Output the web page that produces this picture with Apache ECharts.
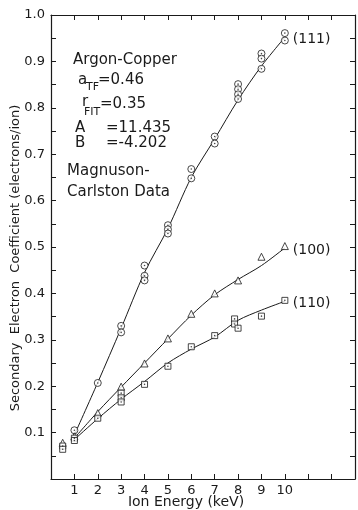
<!DOCTYPE html>
<html>
<head>
<meta charset="utf-8">
<script src="https://cdn.jsdelivr.net/npm/echarts@6/dist/echarts.min.js"></script>
<style>
  html, body { margin: 0; padding: 0; background: #fff; }
  #chart { width: 358px; height: 510px; }
</style>
</head>
<body>
<div id="chart"></div>
<script>
// x positions of the fitted curves (keV)
const fitEnergy = [1, 2, 3, 4, 5, 6, 7, 8, 9, 10];
// fitted curves
const fit111 = [0.095, 0.208, 0.325, 0.445, 0.540, 0.650, 0.733, 0.817, 0.890, 0.952];
const fit100 = [0.088, 0.145, 0.198, 0.250, 0.302, 0.353, 0.397, 0.430, 0.460, 0.498];
const fit110 = [0.085, 0.130, 0.172, 0.210, 0.250, 0.280, 0.306, 0.342, 0.364, 0.383];

// measured points [energy, coefficient]
const pts111 = [
  [1, 0.105], [2, 0.207], [3, 0.330], [3, 0.316],
  [4, 0.460], [4, 0.438], [4, 0.428],
  [5, 0.547], [5, 0.538], [5, 0.529],
  [6, 0.668], [6, 0.648], [7, 0.738], [7, 0.723],
  [8, 0.851], [8, 0.840], [8, 0.829], [8, 0.819],
  [9, 0.917], [9, 0.906], [9, 0.884],
  [10, 0.961], [10, 0.945]
];
const pts100 = [
  [0.5, 0.078], [1, 0.092], [2, 0.142], [3, 0.199], [4, 0.249], [5, 0.303],
  [6, 0.356], [7, 0.400], [8, 0.428], [9, 0.479], [10, 0.502]
];
const pts110 = [
  [0.5, 0.071], [0.5, 0.064], [1, 0.088], [1, 0.083], [2, 0.131],
  [3, 0.185], [3, 0.175], [3, 0.166], [4, 0.204], [5, 0.243],
  [6, 0.285], [7, 0.309], [7.85, 0.345], [7.85, 0.334], [8, 0.325],
  [9, 0.351], [10, 0.385]
];

// axis ticks
const xLabels = ['1', '2', '3', '4', '5', '6', '7', '8', '9', '10'];
const yLabels = ['0.1', '0.2', '0.3', '0.4', '0.5', '0.6', '0.7', '0.8', '0.9', '1.0'];

const ink = '#1a1a1a';
const font = 'DejaVu Sans';

const pair = (xs, ys) => xs.map((x, i) => [x, ys[i]]);

const fitLine = (data, label) => ({
  type: 'line',
  data: pair(fitEnergy, data),
  smooth: 0.3,
  showSymbol: false,
  silent: true,
  z: 1,
  lineStyle: { color: ink, width: 1 },
  endLabel: {
    show: true,
    formatter: label,
    distance: 8,
    offset: [0, 2],
    color: ink,
    fontFamily: font,
    fontSize: 14
  }
});

const marks = (data, symbol, size) => ({
  type: 'scatter',
  data: data,
  symbol: symbol,
  symbolSize: size,
  z: 3,
  itemStyle: { color: '#fff', borderColor: ink, borderWidth: 1 }
});

const dots = (data) => ({
  type: 'scatter',
  data: data,
  symbol: 'circle',
  symbolSize: 1.6,
  z: 4,
  itemStyle: { color: ink }
});

const frameX = (position, showLabel) => ({
  type: 'value',
  position: position,
  min: 0, max: 13, interval: 1,
  axisLine: { show: true, onZero: false, lineStyle: { color: ink, width: 1.2 } },
  axisTick: { show: true, inside: true, length: 5, lineStyle: { color: ink } },
  axisLabel: {
    show: showLabel,
    margin: 5,
    color: ink, fontFamily: font, fontSize: 13,
    formatter: v => xLabels.includes(String(v)) ? String(v) : ''
  },
  splitLine: { show: false }
});

const frameY = (position, showLabel) => ({
  type: 'value',
  position: position,
  min: 0, max: 1, interval: 0.05,
  axisLine: { show: true, onZero: false, lineStyle: { color: ink, width: 1.2 } },
  axisTick: { show: true, inside: true, length: 5, lineStyle: { color: ink } },
  axisLabel: {
    show: showLabel,
    margin: 6,
    color: ink, fontFamily: font, fontSize: 13,
    formatter: v => {
      const s = v.toFixed(1);
      return Math.abs(v * 10 - Math.round(v * 10)) < 1e-6 && yLabels.includes(s) ? s : '';
    }
  },
  splitLine: { show: false }
});

const txt = (x, y, text, size) => ({
  type: 'text', x: x, y: y,
  style: { text: text, fill: ink, font: (size || 15) + 'px ' + font, textVerticalAlign: 'middle' }
});

const chart = echarts.init(document.getElementById('chart'), null, { renderer: 'canvas' });
chart.setOption({
  animation: false,
  backgroundColor: '#fff',
  grid: { left: 51, right: 1, top: 15, bottom: 31 },
  xAxis: [frameX('bottom', true), frameX('top', false)],
  yAxis: [frameY('left', true), frameY('right', false)],
  graphic: [
    // axis names
    { type: 'text', x: 186, y: 502,
      style: { text: 'Ion Energy (keV)', fill: ink, font: '14px ' + font, textAlign: 'center', textVerticalAlign: 'middle' } },
    { type: 'text', x: 16, y: 258, rotation: Math.PI / 2,
      style: { text: 'Secondary  Electron  Coefficient (electrons/ion)', fill: ink, font: '13px ' + font, textAlign: 'center', textVerticalAlign: 'middle' } },
    // annotation block
    txt(73, 60, 'Argon-Copper'),
    txt(78, 80, 'a'), txt(86, 87, 'TF', 11), txt(98, 80, '=0.46'),
    txt(82, 102, 'r'), txt(84, 112, 'FIT', 11), txt(100, 104, '=0.35'),
    txt(75, 128, 'A'), txt(106, 128, '=11.435'),
    txt(75, 143, 'B'), txt(106, 143, '=-4.202'),
    txt(67, 171, 'Magnuson-'),
    txt(67, 192, 'Carlston Data')
  ],
  series: [
    fitLine(fit111, '(111)'),
    fitLine(fit100, '(100)'),
    fitLine(fit110, '(110)'),
    marks(pts111, 'circle', 7),
    marks(pts100, 'triangle', 7),
    marks(pts110, 'rect', 6),
    dots(pts111),
    dots(pts110)
  ]
});
</script>
</body>
</html>
